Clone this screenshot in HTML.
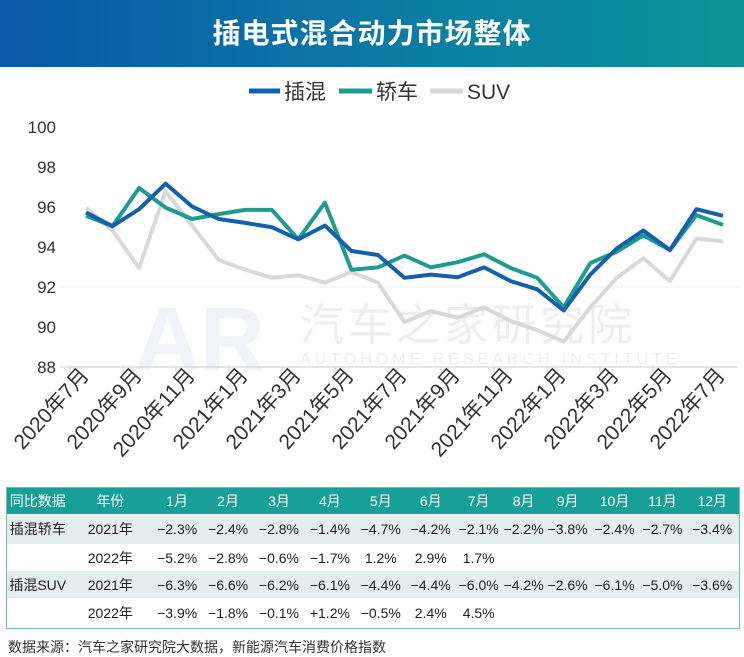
<!DOCTYPE html>
<html><head><meta charset="utf-8"><style>
body{margin:0;width:744px;height:646px;overflow:hidden;background:#fff;font-family:"Liberation Sans","Noto Sans CJK SC",sans-serif;position:relative}
.hdr{position:absolute;left:0;top:0;width:744px;height:67px;background:linear-gradient(90deg,#0a58a8,#0b7fa4 60%,#0a9496);color:#fff;font-weight:bold;font-size:28px;text-align:center;line-height:67px;letter-spacing:1px}
table{position:absolute;left:6px;top:487px;width:734px;border-collapse:collapse;font-size:14px;color:#222;border:1px solid #6fbdb8}
td{text-align:center;padding:0;white-space:nowrap}
tr.h td{background:#16a097;color:#fff;height:26px;font-size:14px}
tr.g td{background:#e5eeee;height:30px}
tr.w td{background:#fff;height:27px}
tr.g2 td{background:#e5eeee;height:27px}
.ft{position:absolute;left:8px;top:637px;font-size:14px;color:#333}
</style></head><body>
<div class="hdr">插电式混合动力市场整体</div>
<svg width="744" height="480" style="position:absolute;left:0;top:0" font-family="Liberation Sans, Noto Sans CJK SC, sans-serif">
<g font-size="21" fill="#333">
<line x1="249" y1="91" x2="280" y2="91" stroke="#1560ad" stroke-width="5"/><text x="284" y="99">插混</text>
<line x1="339" y1="91" x2="372" y2="91" stroke="#1d9c8f" stroke-width="5"/><text x="376" y="99">轿车</text>
<line x1="430" y1="91" x2="463" y2="91" stroke="#d8d8d8" stroke-width="5"/><text x="467" y="99">SUV</text>
</g>
<g font-size="17" fill="#333" text-anchor="end">
<text x="56" y="133">100</text><text x="56" y="173">98</text><text x="56" y="213">96</text><text x="56" y="253">94</text><text x="56" y="293">92</text><text x="56" y="333">90</text><text x="56" y="373">88</text>
</g>
<line x1="60" y1="287" x2="740" y2="287" stroke="#f0f0f0" stroke-width="1"/>
<text x="300" y="340" font-size="44" fill="#eeeeee" letter-spacing="4">汽车之家研究院</text>
<text x="300" y="364" font-size="16" fill="#eeeeee" letter-spacing="4">AUTOHOME RESEARCH INSTITUTE</text>
<text x="135" y="370" font-size="90" font-weight="bold" fill="#f1f3f8">AR</text>
<line x1="60" y1="367" x2="738" y2="367" stroke="#ccc" stroke-width="1"/>
<g stroke="#ccc">
<line x1="70" y1="367" x2="70" y2="373"/><line x1="123" y1="367" x2="123" y2="373"/><line x1="176" y1="367" x2="176" y2="373"/><line x1="229" y1="367" x2="229" y2="373"/><line x1="282" y1="367" x2="282" y2="373"/><line x1="335" y1="367" x2="335" y2="373"/><line x1="388" y1="367" x2="388" y2="373"/><line x1="441" y1="367" x2="441" y2="373"/><line x1="494" y1="367" x2="494" y2="373"/><line x1="547" y1="367" x2="547" y2="373"/><line x1="600" y1="367" x2="600" y2="373"/><line x1="653" y1="367" x2="653" y2="373"/><line x1="706" y1="367" x2="706" y2="373"/>
</g>
<g fill="none" stroke-width="4" stroke-linejoin="round">
<polyline stroke="#d9d9d9" points="86,207.6 112.5,230.5 139.1,268 165.6,191.2 192.2,225.6 218.7,259.9 245.2,269.7 271.8,277.8 298.3,275.2 324.9,282.7 351.4,272 377.9,282.7 404.5,322 431,311.2 457.6,317.7 484.1,307.3 510.6,321 537.2,330.1 563.7,341.6 590.3,307.3 616.8,277.8 643.3,258.2 669.9,281.1 696.4,238.6 723,241.2"/>
<polyline stroke="#1d9c8f" points="86,215.8 112.5,226.2 139.1,188 165.6,207.6 192.2,219 218.7,214.1 245.2,209.9 271.8,209.9 298.3,239.3 324.9,202.7 351.4,269.7 377.9,267.4 404.5,255.6 431,267.4 457.6,262.2 484.1,254.3 510.6,268 537.2,277.8 563.7,307.3 590.3,263.1 616.8,251.7 643.3,235.4 669.9,250 696.4,215.1 723,224.9"/>
<polyline stroke="#1560ad" points="86,212.5 112.5,226.2 139.1,209.2 165.6,183.7 192.2,206.6 218.7,219 245.2,222.9 271.8,227.2 298.3,239.3 324.9,225.6 351.4,251 377.9,255 404.5,277.8 431,274.6 457.6,277.2 484.1,267.4 510.6,281.1 537.2,289.3 563.7,310.5 590.3,274.6 616.8,248.4 643.3,230.5 669.9,250 696.4,209.2 723,215.8"/>
</g>
<g font-size="21" fill="#333" text-anchor="end">
<text transform="translate(90,376) rotate(-48)">2020年7月</text>
<text transform="translate(143,376) rotate(-48)">2020年9月</text>
<text transform="translate(196,376) rotate(-48)">2020年11月</text>
<text transform="translate(249,376) rotate(-48)">2021年1月</text>
<text transform="translate(302,376) rotate(-48)">2021年3月</text>
<text transform="translate(355,376) rotate(-48)">2021年5月</text>
<text transform="translate(408,376) rotate(-48)">2021年7月</text>
<text transform="translate(461,376) rotate(-48)">2021年9月</text>
<text transform="translate(514,376) rotate(-48)">2021年11月</text>
<text transform="translate(567,376) rotate(-48)">2022年1月</text>
<text transform="translate(620,376) rotate(-48)">2022年3月</text>
<text transform="translate(673,376) rotate(-48)">2022年5月</text>
<text transform="translate(726,376) rotate(-48)">2022年7月</text>
</g>
</svg>
<table>
<colgroup><col style="width:62px"><col style="width:84px"><col style="width:50px"><col style="width:52px"><col style="width:50px"><col style="width:52px"><col style="width:50px"><col style="width:50px"><col style="width:46px"><col style="width:44px"><col style="width:44px"><col style="width:50px"><col style="width:46px"><col style="width:54px"></colgroup>
<tr class="h"><td>同比数据</td><td>年份</td><td>1月</td><td>2月</td><td>3月</td><td>4月</td><td>5月</td><td>6月</td><td>7月</td><td>8月</td><td>9月</td><td>10月</td><td>11月</td><td>12月</td></tr>
<tr class="g"><td>插混轿车</td><td>2021年</td><td>−2.3%</td><td>−2.4%</td><td>−2.8%</td><td>−1.4%</td><td>−4.7%</td><td>−4.2%</td><td>−2.1%</td><td>−2.2%</td><td>−3.8%</td><td>−2.4%</td><td>−2.7%</td><td>−3.4%</td></tr>
<tr class="w"><td></td><td>2022年</td><td>−5.2%</td><td>−2.8%</td><td>−0.6%</td><td>−1.7%</td><td>1.2%</td><td>2.9%</td><td>1.7%</td><td></td><td></td><td></td><td></td><td></td></tr>
<tr class="g2"><td>插混SUV</td><td>2021年</td><td>−6.3%</td><td>−6.6%</td><td>−6.2%</td><td>−6.1%</td><td>−4.4%</td><td>−4.4%</td><td>−6.0%</td><td>−4.2%</td><td>−2.6%</td><td>−6.1%</td><td>−5.0%</td><td>−3.6%</td></tr>
<tr class="w" style="height:30px"><td></td><td>2022年</td><td>−3.9%</td><td>−1.8%</td><td>−0.1%</td><td>+1.2%</td><td>−0.5%</td><td>2.4%</td><td>4.5%</td><td></td><td></td><td></td><td></td><td></td></tr>
</table>
<div class="ft">数据来源：汽车之家研究院大数据，新能源汽车消费价格指数</div>
</body></html>
